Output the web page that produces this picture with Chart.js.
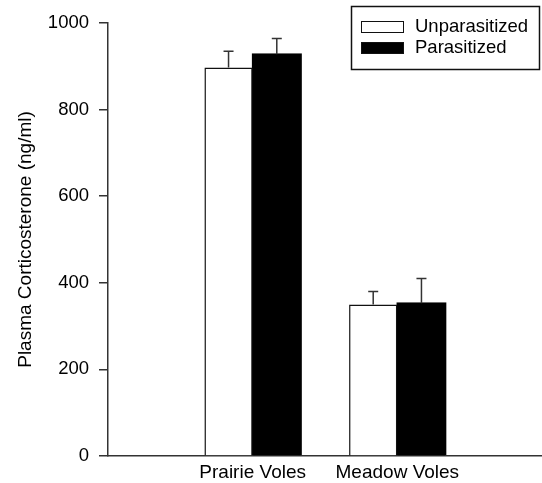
<!DOCTYPE html>
<html>
<head>
<meta charset="utf-8">
<script src="https://cdn.jsdelivr.net/npm/chart.js@4/dist/chart.umd.min.js"></script>
<style>
  html, body { margin: 0; padding: 0; background: #fff; }
  #chart { display: block; }
</style>
</head>
<body>
<canvas id="chart" width="542" height="483"></canvas>
<script>
// data (blank labels pad the axis on both sides)
const categories = ["", "Prairie Voles", "Meadow Voles", ""];
const unparasitized = [null, 897, 350, null];
const parasitized = [null, 928, 353, null];
const unparasitizedErr = [null, 38, 30, null];
const parasitizedErr = [null, 36, 57, null];
const yTicks = [0, 200, 400, 600, 800, 1000];

const FONT = "'Liberation Sans', Arial, Helvetica, sans-serif";
const INK = "#111";

/* error bars: upward whisker with a cap */
const errorBars = {
  id: "errorBars",
  afterDatasetsDraw(chart) {
    const ctx = chart.ctx;
    const y = chart.scales.y;
    ctx.save();
    ctx.strokeStyle = "#333";
    ctx.lineWidth = 1.5;
    chart.data.datasets.forEach((ds, di) => {
      const meta = chart.getDatasetMeta(di);
      meta.data.forEach((bar, i) => {
        const v = ds.data[i];
        const e = ds.errors[i];
        if (v == null || e == null) return;
        const top = y.getPixelForValue(v + e);
        const base = y.getPixelForValue(v);
        ctx.beginPath();
        ctx.moveTo(bar.x, base);
        ctx.lineTo(bar.x, top);
        ctx.moveTo(bar.x - 5, top);
        ctx.lineTo(bar.x + 5, top);
        ctx.stroke();
      });
    });
    ctx.restore();
  }
};

/* boxed legend inside the top-right corner */
const boxLegend = {
  id: "boxLegend",
  afterDraw(chart) {
    const ctx = chart.ctx;
    ctx.save();
    ctx.strokeStyle = INK;
    ctx.lineWidth = 1.5;
    ctx.strokeRect(351.5, 6.5, 188, 63);
    ctx.font = "18.5px " + FONT;
    ctx.textBaseline = "middle";
    ctx.textAlign = "left";
    chart.data.datasets.forEach((ds, i) => {
      const ry = 21 + i * 21;
      ctx.fillStyle = ds.backgroundColor;
      ctx.fillRect(361, ry, 43, 12);
      ctx.lineWidth = 1;
      ctx.strokeStyle = INK;
      ctx.strokeRect(361.5, ry + 0.5, 42, 11);
      ctx.fillStyle = "#000";
      ctx.fillText(ds.label, 415, ry + 6);
    });
    ctx.restore();
  }
};

new Chart(document.getElementById("chart"), {
  type: "bar",
  data: {
    labels: categories,
    datasets: [
      {
        label: "Unparasitized",
        data: unparasitized,
        errors: unparasitizedErr,
        backgroundColor: "#ffffff",
        borderColor: INK,
        borderWidth: 1.5,
      },
      {
        label: "Parasitized",
        data: parasitized,
        errors: parasitizedErr,
        backgroundColor: "#000000",
        borderColor: "#000000",
        borderWidth: 1.5,
        inflateAmount: 1,
      },
    ],
  },
  options: {
    responsive: false,
    animation: false,
    devicePixelRatio: 1,
    layout: { padding: { top: 23, right: 0, bottom: 0, left: 0 } },
    datasets: {
      bar: { categoryPercentage: 0.667, barPercentage: 1, skipNull: false },
    },
    plugins: {
      legend: { display: false },
      tooltip: { enabled: false },
    },
    scales: {
      x: {
        offset: false,
        grid: { display: false, drawTicks: false, offset: false },
        border: { display: true, color: "#333", width: 1.5 },
        ticks: {
          color: "#000",
          padding: 5,
          maxRotation: 0,
          autoSkip: false,
          font: { family: FONT, size: 19 },
        },
        afterFit(scale) {
          scale.height = 27;
          scale.paddingLeft = 0;
          scale.paddingRight = 0;
        },
      },
      y: {
        min: 0,
        max: 1000,
        afterBuildTicks(scale) { scale.ticks = yTicks.map((v) => ({ value: v })); },
        grid: {
          drawOnChartArea: false,
          drawTicks: true,
          tickLength: 9,
          color: "#333",
          lineWidth: 1.5,
        },
        border: { display: true, color: "#333", width: 1.5 },
        ticks: {
          color: "#000",
          padding: 10,
          font: { family: FONT, size: 18.5 },
          callback: (v) => String(v),
        },
        title: {
          display: true,
          text: "Plasma Corticosterone (ng/ml)",
          color: "#000",
          padding: { top: 14, bottom: 0 },
          font: { family: FONT, size: 19 },
        },
        afterFit(scale) { scale.width = 108; },
      },
    },
  },
  plugins: [errorBars, boxLegend],
});
</script>
</body>
</html>
